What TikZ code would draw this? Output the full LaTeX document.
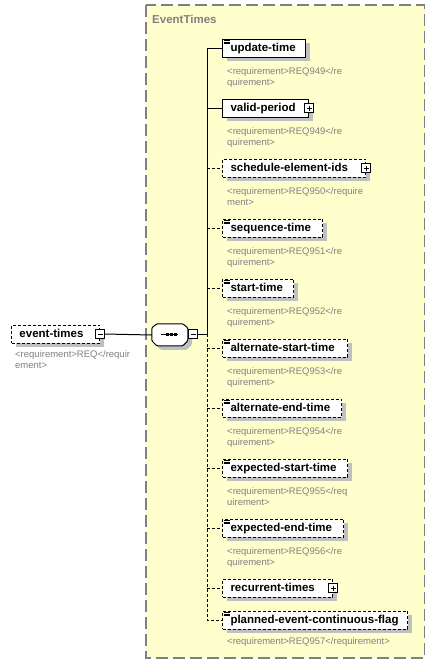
\documentclass[tikz,border=0pt]{standalone}
\usepackage{fontspec}
\setmainfont{Liberation Sans}
\usetikzlibrary{shadows}
\definecolor{grpfill}{RGB}{255,255,206}
\definecolor{grpline}{RGB}{128,128,128}
\definecolor{shgray}{RGB}{192,192,192}
\definecolor{doccol}{RGB}{128,128,128}
\newcommand\elbl[2]{\makebox[#1][l]{#2}}
\newcommand\simpicon[1]{\draw[line width=0.6pt]
  ([xshift=1.5pt,yshift=-1.6pt]#1.north west) -- ++(6,0)
  ([xshift=1.5pt,yshift=-3.4pt]#1.north west) -- ++(6,0)
  ([xshift=1.5pt,yshift=-5.2pt]#1.north west) -- ++(6,0);}
\begin{document}
\begin{tikzpicture}[x=1pt,y=-1pt,
  elem/.style={draw, line width=1pt, fill=white, rectangle, anchor=west,
    minimum height=18pt, inner xsep=8pt, inner ysep=0pt,
    text height=8.5pt, text depth=2.5pt,
    font=\bfseries\fontsize{11.5}{13}\selectfont,
    drop shadow={shadow xshift=4pt, shadow yshift=-4pt, fill=shgray, opacity=1}},
  opt/.style={elem, dash pattern=on 3pt off 2pt},
  doc/.style={anchor=base west, inner sep=0pt, text=doccol,
    font=\fontsize{9.5}{10.5}\selectfont},
  conn/.style={line width=1pt},
  optconn/.style={conn, dash pattern=on 3pt off 2pt},
  pmbox/.style={draw, fill=white, line width=0.8pt, minimum size=9pt,
    inner sep=0pt, rectangle},
  minusicon/.style={pmbox, path picture={\draw[line width=0.8pt]
    ([xshift=2pt]path picture bounding box.west) --
    ([xshift=-2pt]path picture bounding box.east);}},
  plusicon/.style={pmbox, path picture={\draw[line width=0.8pt]
    ([xshift=2pt]path picture bounding box.west) --
    ([xshift=-2pt]path picture bounding box.east)
    ([yshift=2pt]path picture bounding box.south) --
    ([yshift=-2pt]path picture bounding box.north);}},
  octpath/.style={rounded corners=1pt}
]
\useasboundingbox (0,0) rectangle (435,664);

% group box
\draw[grpline, line width=1.5pt, dash pattern=on 12pt off 5pt, fill=grpfill]
  (146,5) rectangle (424.5,658);
\node[anchor=base west, inner sep=0pt, text=grpline,
  font=\bfseries\fontsize{11.5}{13}\selectfont] (title) at (152,23) {EventTimes};

% root element
\node[opt] (et) at (11,334) {\elbl{72pt}{event-times}};
\node[minusicon] (etm) at (et.east) {};
\node[doc] (etd1) at (15,357) {<requirement>REQ</requir};
\node[doc] (etd2) at (15,368) {ement>};

% sequence compositor
\node[rectangle, minimum width=36pt, minimum height=22pt, inner sep=0pt]
  (seq) at (170,335) {};
\begin{scope}[shift={(seq.north west)}]
  \fill[shgray, octpath] (4,8)--(9,4)--(35,4)--(40,8)--(40,21)--(35,26)--(9,26)--(4,21)--cycle;
  \draw[line width=1pt, fill=white, octpath] (0,4)--(5,0)--(31,0)--(36,4)--(36,17)--(31,22)--(5,22)--(0,17)--cycle;
\end{scope}
\draw[line width=1pt] ([xshift=-9pt,yshift=0.5pt]seq.center) -- ([xshift=8pt,yshift=0.5pt]seq.center);
\foreach \dx in {-4.5,-0.5,3.5}
  \fill ([xshift=\dx pt, yshift=-1pt]seq.center) rectangle ++(3,-3);
\node[minusicon] (seqm) at (193,334) {};
\coordinate (spine) at (207,334);

% children
\node[elem] (upd) at (222,48) {\elbl{67pt}{update-time}};
\node[elem] (vp) at (222,108) {\elbl{70pt}{valid-period}};
\node[opt] (sei) at (222,168) {\elbl{127pt}{schedule-element-ids}};
\node[opt] (seqt) at (222,228) {\elbl{84pt}{sequence-time}};
\node[opt] (st) at (222,288) {\elbl{55pt}{start-time}};
\node[opt] (ast) at (222,348) {\elbl{109pt}{alternate-start-time}};
\node[opt] (aet) at (222,408) {\elbl{103pt}{alternate-end-time}};
\node[opt] (est) at (222,468) {\elbl{109pt}{expected-start-time}};
\node[opt] (eet) at (222,528) {\elbl{105pt}{expected-end-time}};
\node[opt] (rt) at (222,588) {\elbl{94pt}{recurrent-times}};
\node[opt] (pecf) at (222,620) {\elbl{169pt}{planned-event-continuous-flag}};

\node[plusicon] (vpp) at (vp.east) {};
\node[plusicon] (seip) at (sei.east) {};
\node[plusicon] (rtp) at (rt.east) {};

\simpicon{upd}
\simpicon{seqt}
\simpicon{st}
\simpicon{ast}
\simpicon{aet}
\simpicon{est}
\simpicon{eet}
\simpicon{pecf}

% documentation
\node[doc] (d1a) at (227,74.5) {<requirement>REQ949</re};
\node[doc] (d1b) at (227,85) {quirement>};
\node[doc] (d2a) at (227,134.5) {<requirement>REQ949</re};
\node[doc] (d2b) at (227,145) {quirement>};
\node[doc] (d3a) at (227,194.5) {<requirement>REQ950</require};
\node[doc] (d3b) at (227,205) {ment>};
\node[doc] (d4a) at (227,254.5) {<requirement>REQ951</re};
\node[doc] (d4b) at (227,265) {quirement>};
\node[doc] (d5a) at (227,314.5) {<requirement>REQ952</re};
\node[doc] (d5b) at (227,325) {quirement>};
\node[doc] (d6a) at (227,374.5) {<requirement>REQ953</re};
\node[doc] (d6b) at (227,385) {quirement>};
\node[doc] (d7a) at (227,434.5) {<requirement>REQ954</re};
\node[doc] (d7b) at (227,445) {quirement>};
\node[doc] (d8a) at (227,494.5) {<requirement>REQ955</req};
\node[doc] (d8b) at (227,505) {uirement>};
\node[doc] (d9a) at (227,554.5) {<requirement>REQ956</re};
\node[doc] (d9b) at (227,565) {quirement>};
\node[doc] (d10a) at (227,644.5) {<requirement>REQ957</requirement>};

% connectors
\draw[conn] (etm.east) -- (seq.west);
\draw[conn] (seqm.east) -- (spine);
\draw[conn] (spine) -- (spine |- upd.west) -- (upd.west);
\draw[conn] (spine |- vp.west) -- (vp.west);
\draw[optconn] (spine) -- (spine |- pecf.west) -- (pecf.west);
\foreach \n in {sei,seqt,st,ast,aet,est,eet,rt}
  \draw[optconn] (spine |- \n.west) -- (\n.west);
\end{tikzpicture}
\end{document}
